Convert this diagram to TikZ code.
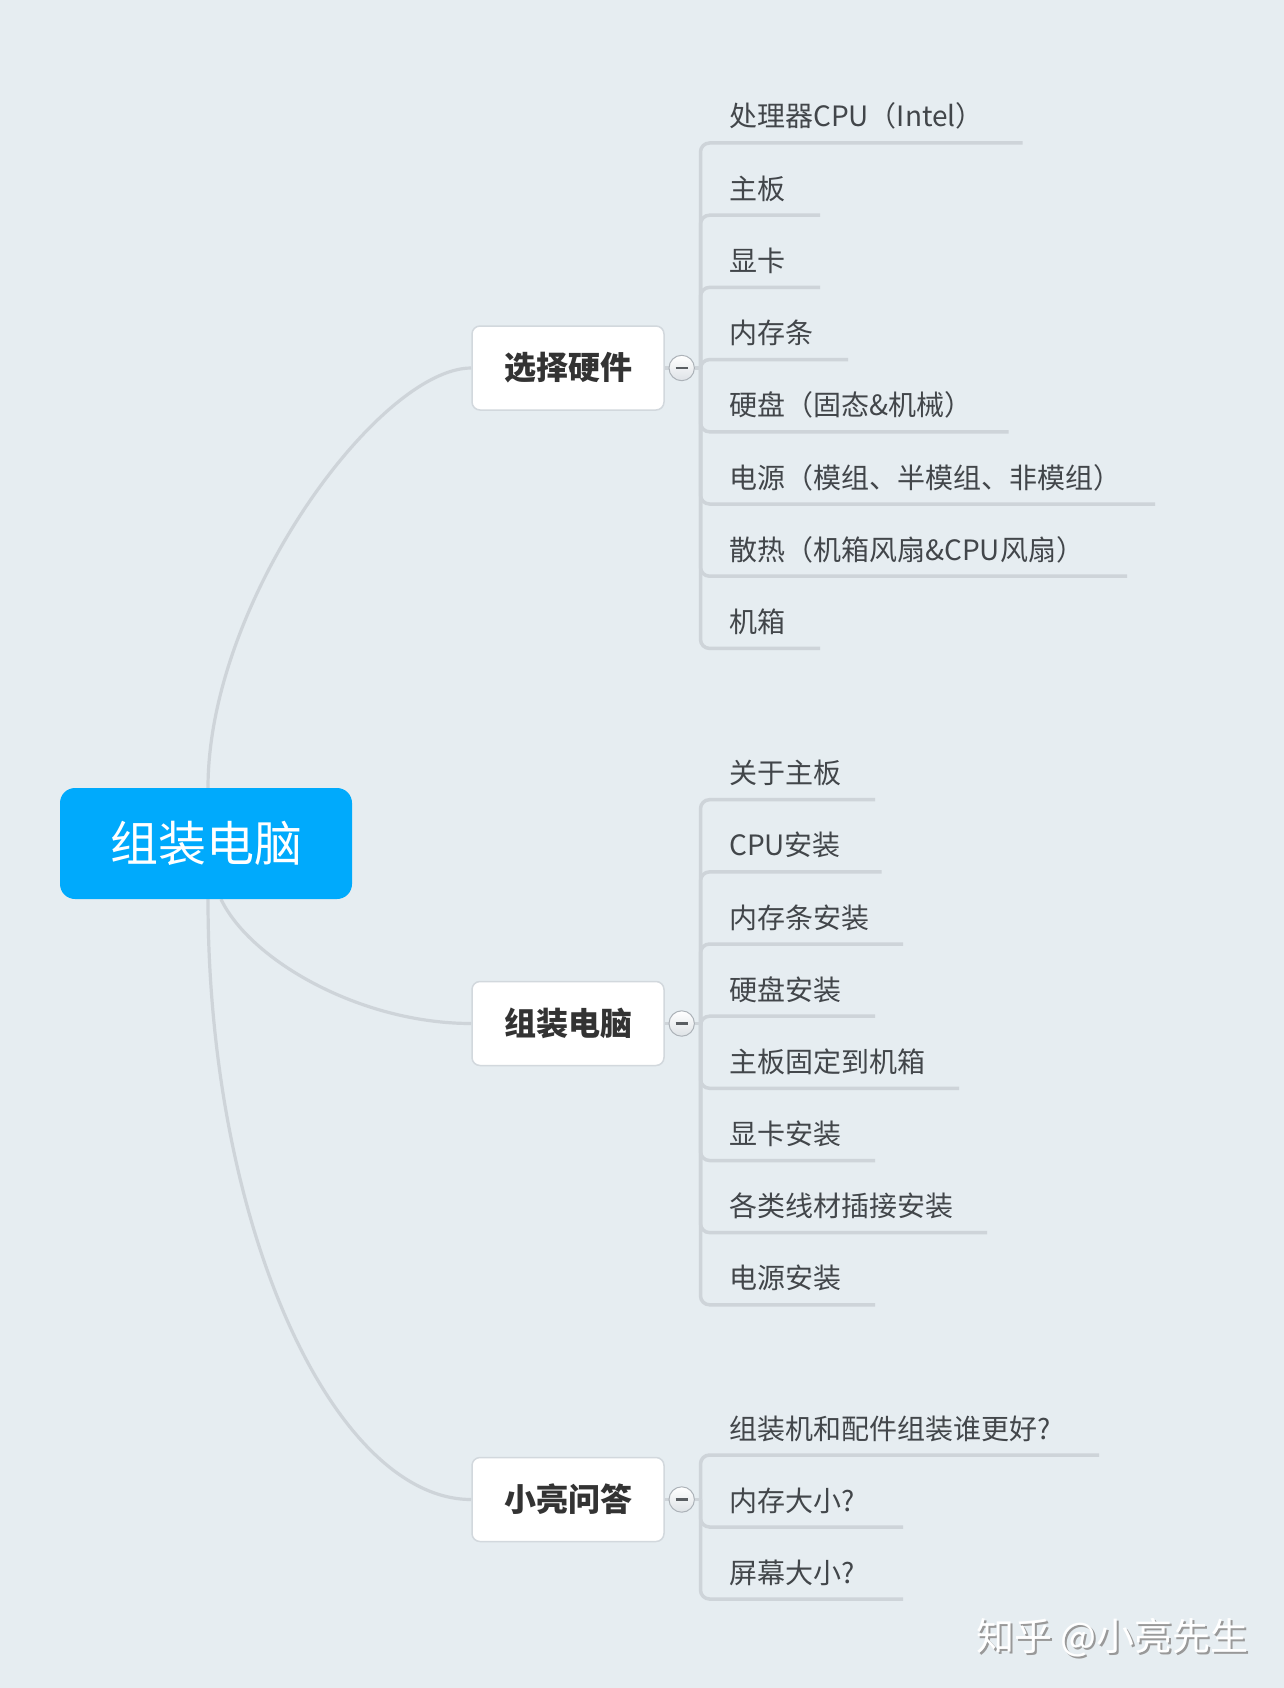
\documentclass[tikz,border=0pt]{standalone}
\usepackage{fontspec}
\newfontfamily\cjk{Noto Sans CJK SC}
\definecolor{bgc}{RGB}{230,237,241}
\definecolor{rootblue}{RGB}{0,170,252}
\definecolor{linec}{RGB}{206,212,217}
\definecolor{boxline}{RGB}{210,216,221}
\definecolor{leaftxt}{RGB}{66,70,74}
\definecolor{boxtxt}{RGB}{51,51,51}
\definecolor{togline}{RGB}{172,178,184}
\definecolor{togfill}{RGB}{222,226,230}
\definecolor{minusc}{RGB}{90,94,98}
\pgfdeclarelayer{bglayer}
\pgfdeclarelayer{back}
\pgfsetlayers{bglayer,back,main}
\begin{document}
\begin{tikzpicture}[x=1pt,y=-1pt,
  rootbox/.style={rectangle, rounded corners=15, fill=rootblue, minimum width=292, minimum height=111, inner sep=0, text=white, font=\cjk\fontsize{48}{50}\selectfont},
  topic/.style={rectangle, rounded corners=8, draw=boxline, line width=1.5, fill=white, minimum width=192, minimum height=84, inner sep=0, text=boxtxt, font=\cjk\bfseries\fontsize{32}{34}\selectfont},
  tog/.style={circle, draw=togline, line width=1, top color=white, bottom color=togfill, minimum size=25.4, inner sep=0,
    path picture={\draw[line width=2.8, minusc] ([xshift=-6]path picture bounding box.center) -- ([xshift=6]path picture bounding box.center);}},
  leaf/.style={anchor=base west, inner sep=0, text=leaftxt, font=\cjk\fontsize{28}{30}\selectfont},
  conn/.style={draw=linec, line width=3.2},
  branch/.style={draw=linec, line width=3.5, rounded corners=9},
  wm/.style={anchor=west, inner sep=0, font=\cjk\fontsize{38}{40}\selectfont}
]
\begin{pgfonlayer}{bglayer}
\fill[bgc] (0,0) rectangle (1284,1688);
\end{pgfonlayer}
\useasboundingbox (0,0) rectangle (1284,1688);

% root and topics
\node[rootbox] (root) at (206,843.5) {组装电脑};
\node[topic] (b1) at (568,368) {选择硬件};
\node[topic] (b2) at (568,1023.5) {组装电脑};
\node[topic] (b3) at (568,1499.5) {小亮问答};

\node[tog] (c1) at (681.7,368) {};
\node[tog] (c2) at (681.7,1023.5) {};
\node[tog] (c3) at (681.7,1499.5) {};

\coordinate (j1) at (700.5,368);
\coordinate (j2) at (700.5,1023.5);
\coordinate (j3) at (700.5,1499.5);

\begin{pgfonlayer}{back}
\draw[conn] ([xshift=2]root.north) .. controls (208,600) and (380,368) .. (b1.west);
\draw[conn] ([xshift=15]root.south) .. controls (250,960) and (360,1023.5) .. (b2.west);
\draw[conn] ([xshift=2]root.south) .. controls (208,1230) and (335,1499.5) .. (b3.west);
\draw[conn] (b1.east) -- (c1.west);
\draw[conn] (b2.east) -- (c2.west);
\draw[conn] (b3.east) -- (c3.west);
\draw[conn] (c1.east) -- (j1);
\draw[conn] (c2.east) -- (j2);
\draw[conn] (c3.east) -- (j3);
\end{pgfonlayer}

% group 1
\foreach \n/\yy/\xe/\t in {
  a/143/1022.5/{处理器CPU（Intel）},
  b/215.2/820/{主板},
  c/287.4/820/{显卡},
  d/359.6/848/{内存条},
  e/431.8/1008.5/{硬盘（固态\&机械）},
  f/504/1155/{电源（模组、半模组、非模组）},
  g/576.2/1127/{散热（机箱风扇\&CPU风扇）},
  h/648.4/820/{机箱}}{
  \node[leaf] (g1\n) at (729,\yy-16) {\t};
  \coordinate (g1\n e) at (\xe,\yy);
  \begin{pgfonlayer}{back}
  \draw[branch] (j1) |- (g1\n e);
  \end{pgfonlayer}
}

% group 2
\foreach \n/\yy/\xe/\t in {
  a/799.7/875/{关于主板},
  b/871.9/881.5/{CPU安装},
  c/944/903/{内存条安装},
  d/1016.2/875/{硬盘安装},
  e/1088.3/959/{主板固定到机箱},
  f/1160.5/875/{显卡安装},
  g/1232.6/987/{各类线材插接安装},
  h/1304.8/875/{电源安装}}{
  \node[leaf] (g2\n) at (729,\yy-16) {\t};
  \coordinate (g2\n e) at (\xe,\yy);
  \begin{pgfonlayer}{back}
  \draw[branch] (j2) |- (g2\n e);
  \end{pgfonlayer}
}

% group 3
\foreach \n/\yy/\xe/\t in {
  a/1455/1099/{组装机和配件组装谁更好?},
  b/1527/903/{内存大小?},
  c/1599/903/{屏幕大小?}}{
  \node[leaf] (g3\n) at (729,\yy-16) {\t};
  \coordinate (g3\n e) at (\xe,\yy);
  \begin{pgfonlayer}{back}
  \draw[branch] (j3) |- (g3\n e);
  \end{pgfonlayer}
}

% watermark
\node[wm, text=black!40] (wmshadow) at (978,1640) {知乎 @小亮先生};
\node[wm, text=white] (wmark) at (976,1638) {知乎 @小亮先生};
\end{tikzpicture}
\end{document}
